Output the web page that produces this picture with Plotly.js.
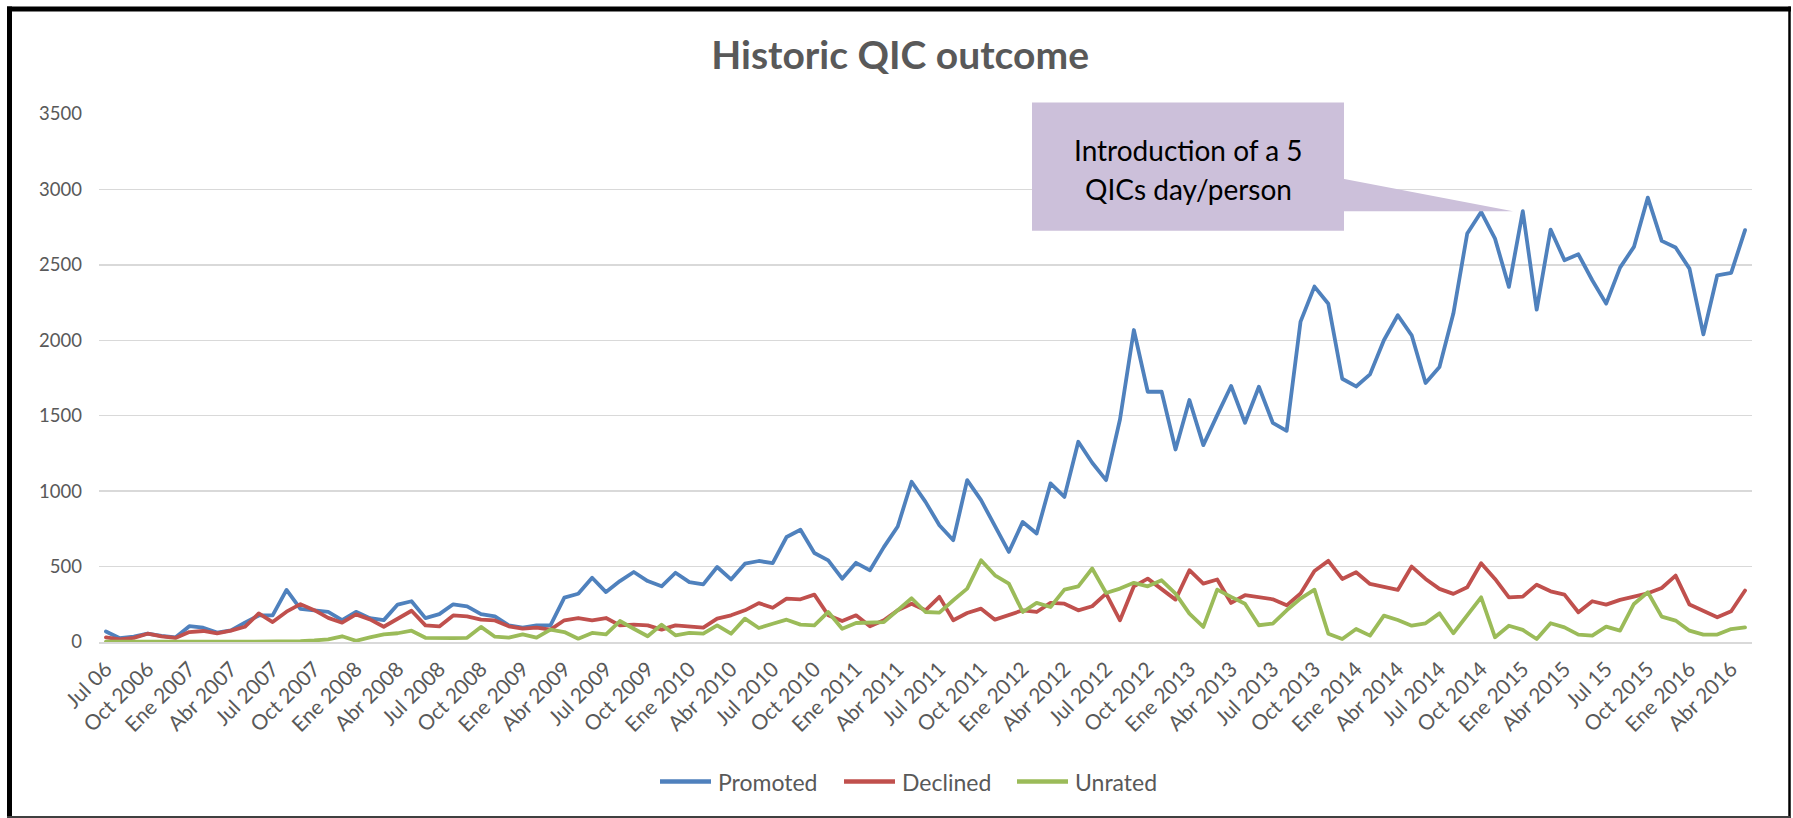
<!DOCTYPE html>
<html>
<head>
<meta charset="utf-8">
<script src="https://cdn.plot.ly/plotly-3.0.1.min.js"></script>
<style>
  html, body { margin: 0; padding: 0; background: #ffffff; }
  #chart { width: 1793px; height: 818px; }
  .scatterlayer path.js-line { stroke-linejoin: round; stroke-linecap: round; }
</style>
</head>
<body>
<div id="chart"></div>
<script>
// Tick labels shown every 3 months (Jul 2006 ... Abr 2016)
const tickLabels = ["Jul 06","Oct 2006","Ene 2007","Abr 2007","Jul 2007","Oct 2007","Ene 2008","Abr 2008",
  "Jul 2008","Oct 2008","Ene 2009","Abr 2009","Jul 2009","Oct 2009","Ene 2010","Abr 2010","Jul 2010",
  "Oct 2010","Ene 2011","Abr 2011","Jul 2011","Oct 2011","Ene 2012","Abr 2012","Jul 2012","Oct 2012",
  "Ene 2013","Abr 2013","Jul 2013","Oct 2013","Ene 2014","Abr 2014","Jul 2014","Oct 2014","Ene 2015",
  "Abr 2015","Jul 15","Oct 2015","Ene 2016","Abr 2016"];

// Monthly values, Jul 2006 .. May 2016
const promoted = [70,25,35,55,40,30,105,95,62,77,128,176,176,345,220,209,200,145,200,158,
  145,248,270,158,185,250,236,185,170,110,95,110,110,294,320,426,331,404,464,404,
  369,459,397,382,497,415,519,537,523,696,744,590,541,420,525,475,629,766,1062,929,
  774,675,1073,940,774,597,796,719,1051,962,1327,1188,1073,1475,2068,1659,1659,1276,1604,1305,
  1504,1697,1453,1692,1453,1400,2124,2356,2242,1745,1694,1774,2000,2166,2033,1717,1823,2177,2708,2851,
  2674,2354,2856,2203,2734,2531,2570,2398,2243,2482,2619,2946,2659,2615,2475,2039,2431,2447,2730];

const declined = [31,18,27,55,37,27,66,73,57,75,101,189,132,201,251,211,160,128,183,150,
  101,154,207,110,103,176,170,148,143,104,88,95,82,144,159,144,159,110,115,110,
  82,110,104,95,155,177,210,258,227,287,283,314,177,139,177,104,144,210,254,210,
  299,144,192,221,148,177,210,199,259,254,210,237,321,144,369,420,354,281,476,387,
  414,259,310,299,283,243,321,471,538,418,462,385,363,345,500,418,352,319,363,522,
  418,296,301,380,336,314,197,270,248,279,301,323,358,440,248,208,164,204,341];

const unrated = [3,2,2,3,2,2,2,3,5,3,2,2,2,3,5,10,18,38,8,30,
  50,58,75,28,25,26,28,100,35,29,51,29,82,66,22,60,51,139,88,38,
  115,44,60,55,110,55,155,93,121,148,115,110,199,88,126,126,132,210,290,199,
  195,277,354,542,442,387,199,259,232,347,369,487,325,354,392,369,409,321,188,100,
  347,299,254,111,122,210,288,347,55,20,86,42,175,146,108,124,190,58,175,296,
  31,108,80,20,124,97,49,42,102,75,252,330,168,142,75,49,49,86,97];

const seriesNames = ["Promoted","Declined","Unrated"];
const seriesColors = ["#4F81BD","#C0504D","#9BBB59"];
const seriesData = [promoted, declined, unrated];

const monthIndex = promoted.map((_, i) => i);
const tickVals = tickLabels.map((_, k) => 3 * k);

const traces = seriesData.map((vals, s) => ({
  type: "scatter",
  mode: "lines",
  name: seriesNames[s],
  x: monthIndex,
  y: vals,
  line: { color: seriesColors[s], width: 3.8 },
  hoverinfo: "x+y+name"
}));

// pixel -> paper helpers (plot area: x 99..1752, y 114.4..641.7)
const L = 99, R = 41, T = 114.4, B = 176.3, W = 1793, H = 818;
const pw = W - L - R, ph = H - T - B;
const px = v => (v - L) / pw;
const py = v => (H - B - v) / ph;

const fontFam = "Lato, 'Open Sans', sans-serif";

// legend entries (drawn as line + text, Excel style)
const legendX = [660, 844, 1017];
const legendY = 781;
const legendShapes = seriesNames.map((n, s) => ({
  type: "line", xref: "paper", yref: "paper",
  x0: px(legendX[s]), x1: px(legendX[s] + 51), y0: py(legendY), y1: py(legendY),
  line: { color: seriesColors[s], width: 4.5 }
}));
const legendTexts = seriesNames.map((n, s) => ({
  xref: "paper", yref: "paper", x: px(legendX[s] + 56), y: py(legendY + 1),
  text: n, showarrow: false, xanchor: "left", yanchor: "middle",
  font: { family: fontFam, size: 23, color: "#595959" }
}));

const layout = {
  width: W, height: H,
  margin: { l: L, r: R, t: T, b: B, pad: 0 },
  paper_bgcolor: "#ffffff",
  plot_bgcolor: "#ffffff",
  font: { family: fontFam, color: "#595959", size: 18 },
  title: {
    text: "<b>Historic QIC outcome</b>",
    font: { family: fontFam, size: 39, color: "#595959" },
    x: 0.502, xref: "container", xanchor: "center",
    y: 1 - 55 / H, yref: "container", yanchor: "middle"
  },
  xaxis: {
    range: [-0.5, promoted.length - 0.5],
    tickmode: "array",
    tickvals: tickVals,
    ticktext: tickLabels,
    tickangle: -45,
    showgrid: false,
    zeroline: false,
    showline: true,
    linecolor: "#d9d9d9",
    linewidth: 1.5,
    ticks: "",
    ticklabelstandoff: 5,
    tickfont: { family: fontFam, size: 21, color: "#595959" },
    fixedrange: true
  },
  yaxis: {
    range: [0, 3500],
    dtick: 500,
    tick0: 0,
    showgrid: true,
    gridcolor: "#d9d9d9",
    gridwidth: 1.5,
    zeroline: true,
    zerolinecolor: "#d9d9d9",
    zerolinewidth: 1.5,
    showline: false,
    ticks: "",
    ticklabelstandoff: 16,
    tickfont: { family: fontFam, size: 18.5, color: "#595959" },
    fixedrange: true
  },
  showlegend: false,
  shapes: [
    // callout box
    { type: "rect", xref: "paper", yref: "paper",
      x0: px(1032), x1: px(1344), y0: py(231), y1: py(103),
      fillcolor: "#CCC0DA", line: { width: 0 }, layer: "above" },
    // callout pointer
    { type: "path", xref: "paper", yref: "paper",
      path: `M ${px(1343)} ${py(179)} L ${px(1513)} ${py(211.5)} L ${px(1343)} ${py(211.5)} Z`,
      fillcolor: "#CCC0DA", line: { width: 0 }, layer: "above" },
    // chart frame
    { type: "line", xref: "paper", yref: "paper",
      x0: px(9.5), x1: px(9.5), y0: py(7), y1: py(818), line: { color: "#000000", width: 5 } },
    { type: "line", xref: "paper", yref: "paper",
      x0: px(7), x1: px(1791), y0: py(9.5), y1: py(9.5), line: { color: "#000000", width: 5 } },
    { type: "line", xref: "paper", yref: "paper",
      x0: px(1789.5), x1: px(1789.5), y0: py(7), y1: py(818), line: { color: "#000000", width: 2.5 } },
    { type: "line", xref: "paper", yref: "paper",
      x0: px(7), x1: px(1791), y0: py(816.5), y1: py(816.5), line: { color: "#404040", width: 2 } }
  ].concat(legendShapes),
  annotations: [
    { xref: "paper", yref: "paper", x: px(1188), y: py(150), text: "Introduction of a 5",
      showarrow: false, xanchor: "center", yanchor: "middle",
      font: { family: fontFam, size: 28, color: "#000000" } },
    { xref: "paper", yref: "paper", x: px(1188), y: py(189), text: "QICs day/person",
      showarrow: false, xanchor: "center", yanchor: "middle",
      font: { family: fontFam, size: 28, color: "#000000" } }
  ].concat(legendTexts)
};

Plotly.newPlot("chart", traces, layout, { displayModeBar: false, staticPlot: true });
</script>
</body>
</html>
